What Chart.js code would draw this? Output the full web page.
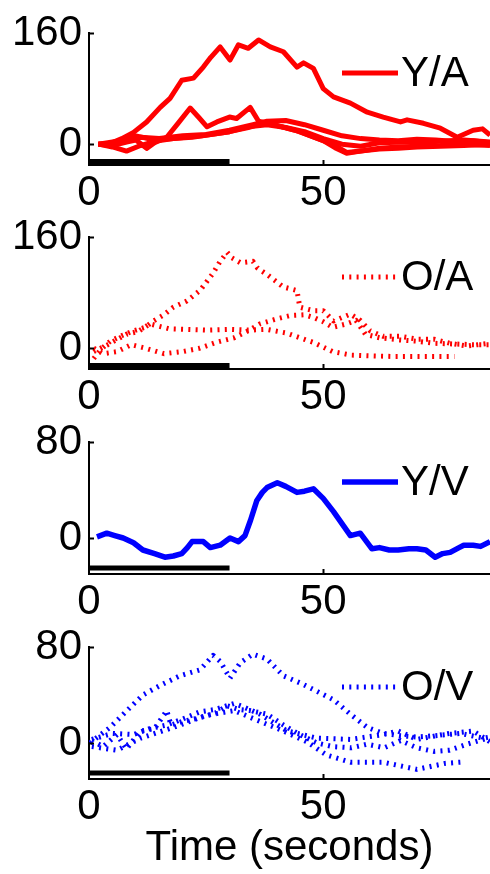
<!DOCTYPE html>
<html>
<head>
<meta charset="utf-8">
<script src="https://cdn.jsdelivr.net/npm/chart.js@4.4.1/dist/chart.umd.min.js"></script>
<style>
  html, body { margin: 0; padding: 0; background: #fff; }
  #wrap { position: relative; width: 490px; height: 874px; overflow: hidden; background: #fff; }
  #wrap canvas { position: absolute; left: 0; }
</style>
</head>
<body>
<div id="wrap">
  <canvas id="panelYA" width="490" height="205" style="top:0px"></canvas>
  <canvas id="panelOA" width="490" height="205" style="top:204px"></canvas>
  <canvas id="panelYV" width="490" height="205" style="top:409px"></canvas>
  <canvas id="panelOV" width="490" height="260" style="top:614px"></canvas>
</div>
<script>
// Shared axis settings
const xTickValues = [0, 50];
const xMax = 85.6;
const yMin = -30;
const stimulusTimes = [0, 30];
const stimulusLevel = -25;

// Y/A responses (solid red traces)
const yaTime1 = [2, 4.5, 7, 9.5, 12.3, 15.2, 17.3, 19.8, 22.3, 24.4, 26, 28, 30.1, 31.9, 34, 36.2, 38.7, 41.5, 44.4, 45.8, 47.9, 50, 52.2, 55.8, 59.4, 62.8, 66.5, 67.9, 71.4, 75, 78.6, 82, 84, 85.6];
const yaResp1 = [0, 1, 8, 17, 32, 53, 66, 92, 95, 111, 125, 140, 121, 143, 138, 150, 140, 133, 111, 117, 109, 80, 68, 59, 46, 39, 32, 35, 30, 23, 10, 20, 22, 13];
const yaTime2 = [2, 5, 8, 10, 12.3, 14, 16.6, 19, 21.6, 23.5, 25.2, 27.3, 30, 31.5, 34.4, 36.2, 40, 45, 50, 52.5, 55, 58, 62, 66, 70, 75, 80, 85.6];
const yaResp2 = [0, -2, 3, 6, -6, 2, 10, 30, 52, 38, 25, 32, 39, 37, 53, 33, 27, 18, 5, -5, -13, -10, -7, -6, -4, -3, -2, 0];
const yaTime3 = [2, 5, 8, 11, 15, 20, 25, 30, 35, 38, 42, 46, 50, 54, 58, 62, 66, 70, 74, 78, 82, 85.6];
const yaResp3 = [0, 3, 6, 10, 8, 12, 14, 20, 28, 33, 34, 28, 20, 12, 8, 6, 5, 7, 6, 4, 5, 2];
const yaTime4 = [2, 5, 8, 11, 14, 18, 22, 26, 30, 34, 37, 40, 44, 48, 52, 55, 58, 62, 66, 70, 75, 80, 85.6];
const yaResp4 = [0, -4, -10, -2, 4, 8, 10, 14, 18, 24, 30, 27, 20, 10, 0, -12, -10, -6, -4, -3, -2, 0, -2];
const yaTime5 = [2, 6, 10, 14, 18, 24, 30, 34, 38, 42, 46, 50, 54, 58, 62, 68, 74, 80, 85.6];
const yaResp5 = [0, 2, 12, 6, 8, 12, 18, 25, 28, 24, 18, 8, 0, -3, 2, 3, 4, 6, 3];

// O/A responses (dotted red traces)
const oaTime1 = [1, 2.5, 4.5, 7, 9.5, 12, 13.7, 16, 18, 20.9, 23.7, 26.5, 28, 29.5, 30.5, 32.3, 35, 36, 38, 41.5, 44.4, 45, 47.9, 50, 52.2, 55.8, 57.9, 60, 62.8, 66.5, 70, 73.6, 77, 80.7, 83, 85.6];
const oaResp1 = [-15, -2, 10, 18, 25, 30, 39, 48, 59, 68, 83, 108, 125, 138, 130, 123, 125, 115, 106, 88, 83, 59, 54, 54, 39, 49, 40, 25, 17, 17, 13, 13, 7, 3, 5, 7];
const oaTime2 = [1, 4, 8, 10.5, 13, 17, 21, 25, 30, 34, 38, 42, 45, 48, 52, 56, 60, 65, 70, 74, 78];
const oaResp2 = [-5, 5, 20, 24, 35, 28, 27, 26, 27, 26, 27, 22, 15, 8, -5, -10, -11, -12, -12, -12, -12];
const oaTime3 = [1, 3, 6, 9, 12, 16, 20, 23.7, 27, 31, 34, 36.5, 40, 43, 46, 48, 50, 52, 55, 57, 59, 62, 66, 70, 73.6, 78, 82, 85.6];
const oaResp3 = [0, -8, -5, 5, 0, -8, -5, 0, 8, 15, 25, 35, 42, 47, 48, 44, 38, 30, 35, 40, 20, 15, 12, 10, 7, 6, 5, 5];

// Y/V response (solid blue trace)
const yvTime = [1.7, 3.8, 5.5, 7.3, 9.5, 11.5, 14, 16.2, 18, 19.8, 21, 22, 24.4, 25.9, 28, 30.1, 31.9, 33.3, 34.5, 35.8, 37, 38, 40.2, 42, 44.4, 46, 47.9, 50, 52.2, 54, 55.8, 57.9, 60.4, 62, 64.1, 66, 68.3, 70, 71.9, 73.9, 75.5, 77.1, 79, 80, 82, 83.6, 85.6];
const yvResp = [1, 4, 2, 0, -4, -10, -13, -16, -15, -13, -8, -3, -3, -8, -6, 0, -3, 2, 15, 31, 38, 42, 46, 43, 38, 39, 41, 33, 22, 12, 2, 4, -9, -8, -10, -10, -9, -9, -10, -16, -13, -12, -8, -6, -6, -7, -3];

// O/V responses (dotted blue traces)
const ovTime1 = [0.2, 4.5, 8.1, 11.5, 15.2, 19.4, 23.7, 26.5, 28, 30.1, 32.3, 35, 38, 41.5, 45.1, 48.7, 52.2, 55.8, 59.4, 62.8, 66.5, 70, 73.6, 79.3, 84.2, 85.6];
const ovResp1 = [0, 13, 27, 40, 48, 56, 61, 73, 68, 54, 67, 74, 70, 56, 50, 43, 36, 24, 13, 8, 6, 5, 6, 8, 4, 5];
const ovTime2 = [0.6, 3, 6, 8, 11, 14, 16.6, 17.5, 20, 23.7, 27, 29.5, 32, 34.4, 38, 41.5, 45, 48.7, 52, 56, 59.4, 63, 66.5, 70, 73.6, 77, 80.7, 85];
const ovResp2 = [2, -3, 7, -5, 10, 12, 27, 15, 18, 21, 25, 31, 28, 27, 24, 15, 7, 0, -3, -4, -1, -4, 2, -4, -7, -6, -1, 4];
const ovTime3 = [0.6, 6, 11, 18, 25, 31, 36.5, 41.5, 46.5, 50.7, 55.8, 62.8, 70, 76, 79.3];
const ovResp3 = [-3, -6, 4, 13, 23, 27, 18, 10, 1, -10, -16, -16, -22, -17, -16];
const ovTime4 = [0.6, 5, 9.5, 13, 16.6, 20, 23.7, 27, 31, 33, 36.5, 42.3, 48.7, 55.8, 62.8, 66, 70, 74, 77, 82, 85.6];
const ovResp4 = [3, 8, 7, 12, 15, 20, 26, 28, 33, 30, 24, 10, 4, 3, 7, 10, 3, 6, 8, 10, 1];

const FONT = "'Liberation Sans', Arial, Helvetica, sans-serif";
const RED = '#ff0000';
const BLUE = '#0000ff';

const pts = (t, v) => t.map((x, i) => ({ x, y: v[i] }));

function solid(t, v, color, label, width) {
  return { label, data: pts(t, v), borderColor: color, borderWidth: width || 5, borderDash: [], fill: false };
}
function dotted(t, v, color, label) {
  return { label, data: pts(t, v), borderColor: color, borderWidth: 5, borderDash: [2, 5.3], borderCapStyle: 'butt', fill: false };
}
function stimulusBar() {
  return { label: '', data: stimulusTimes.map(x => ({ x, y: stimulusLevel })), borderColor: '#000', borderWidth: 5, borderCapStyle: 'butt', fill: false };
}

// Inward tick marks and a boxless legend entry, MATLAB style
const panelDecor = {
  id: 'panelDecor',
  afterDraw(chart) {
    const { ctx, chartArea, scales } = chart;
    ctx.save();
    ctx.strokeStyle = '#000';
    ctx.lineWidth = 2;
    ctx.setLineDash([]);
    scales.y.ticks.forEach(t => {
      const y = Math.round(scales.y.getPixelForValue(t.value)) + 0.5;
      ctx.beginPath(); ctx.moveTo(chartArea.left, y); ctx.lineTo(chartArea.left + 5, y); ctx.stroke();
    });
    scales.x.ticks.forEach(t => {
      if (t.value === 0) return;
      const x = Math.round(scales.x.getPixelForValue(t.value)) + 0.5;
      ctx.beginPath(); ctx.moveTo(x, chartArea.bottom); ctx.lineTo(x, chartArea.bottom - 5); ctx.stroke();
    });
    const ds = chart.data.datasets[0];
    const ly = chartArea.top + 40;
    const right = chartArea.right;
    ctx.strokeStyle = ds.borderColor;
    ctx.lineWidth = ds.borderWidth;
    ctx.lineCap = 'butt';
    ctx.setLineDash(ds.borderDash || []);
    ctx.beginPath(); ctx.moveTo(right - 148, ly); ctx.lineTo(right - 92, ly); ctx.stroke();
    ctx.setLineDash([]);
    ctx.fillStyle = '#000';
    ctx.font = '42px ' + FONT;
    ctx.textAlign = 'left';
    ctx.textBaseline = 'middle';
    ctx.fillText(ds.label, right - 89, ly + 1);
    ctx.restore();
  }
};

function makePanel(id, datasets, yMax, xHeight, showTitle) {
  return new Chart(document.getElementById(id), {
    type: 'line',
    data: { datasets: datasets.concat([stimulusBar()]) },
    options: {
      responsive: false,
      animation: false,
      devicePixelRatio: 1,
      layout: { padding: { top: 33, right: 0, left: 0, bottom: 0 } },
      elements: {
        point: { radius: 0 },
        line: { tension: 0, borderJoinStyle: 'round' }
      },
      plugins: { legend: { display: false }, tooltip: { enabled: false } },
      scales: {
        x: {
          type: 'linear',
          min: 0,
          max: xMax,
          afterBuildTicks: s => { s.ticks = xTickValues.map(v => ({ value: v })); },
          afterFit: s => { s.height = xHeight; },
          grid: { display: false, drawTicks: false, tickLength: 0 },
          border: { display: true, color: '#000', width: 2 },
          ticks: { color: '#000', font: { family: FONT, size: 42 }, padding: 3, maxRotation: 0, autoSkip: false },
          title: { display: showTitle, text: 'Time (seconds)', color: '#000', font: { family: FONT, size: 42 }, padding: 0 }
        },
        y: {
          type: 'linear',
          min: yMin,
          max: yMax,
          afterBuildTicks: s => { s.ticks = [0, yMax].map(v => ({ value: v })); },
          afterFit: s => { s.width = 89; },
          grid: { display: false, drawTicks: false, tickLength: 0 },
          border: { display: true, color: '#000', width: 2 },
          ticks: { color: '#000', font: { family: FONT, size: 42 }, padding: 7 }
        }
      }
    },
    plugins: [panelDecor]
  });
}

makePanel('panelYA', [
  solid(yaTime1, yaResp1, RED, 'Y/A'),
  solid(yaTime2, yaResp2, RED),
  solid(yaTime3, yaResp3, RED),
  solid(yaTime4, yaResp4, RED),
  solid(yaTime5, yaResp5, RED)
], 160, 40, false);

makePanel('panelOA', [
  dotted(oaTime1, oaResp1, RED, 'O/A'),
  dotted(oaTime2, oaResp2, RED),
  dotted(oaTime3, oaResp3, RED)
], 160, 40, false);

makePanel('panelYV', [
  solid(yvTime, yvResp, BLUE, 'Y/V', 5.5)
], 80, 40, false);

makePanel('panelOV', [
  dotted(ovTime1, ovResp1, BLUE, 'O/V'),
  dotted(ovTime2, ovResp2, BLUE),
  dotted(ovTime3, ovResp3, BLUE),
  dotted(ovTime4, ovResp4, BLUE)
], 80, 95, true);
</script>
</body>
</html>
